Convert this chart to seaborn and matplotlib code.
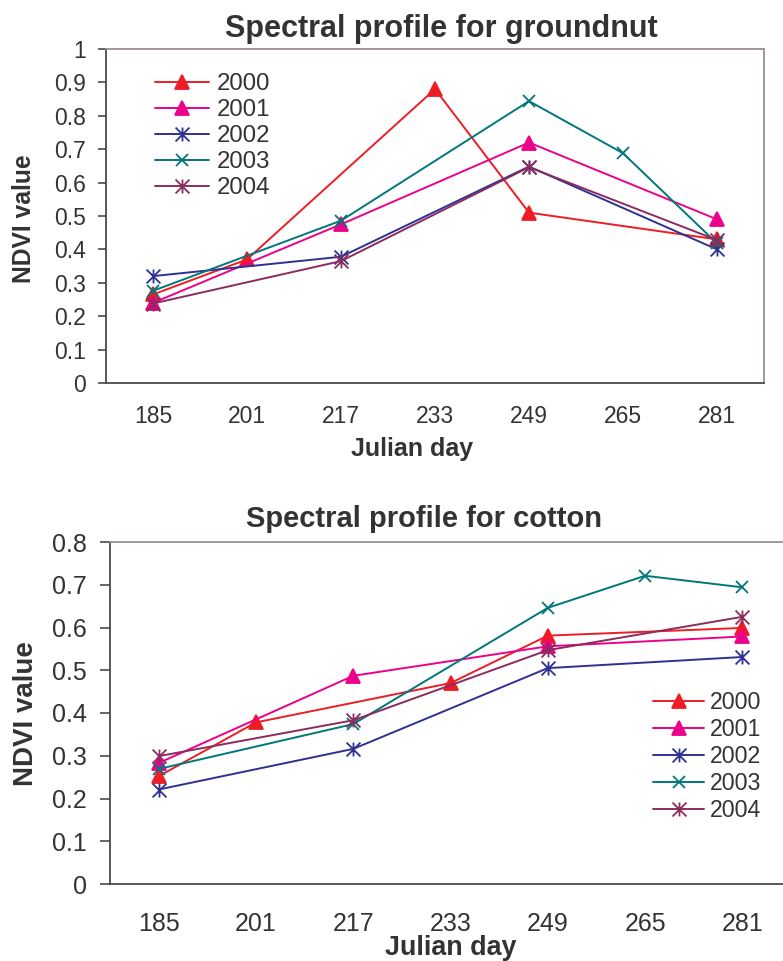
import numpy as np
import pandas as pd
import matplotlib
matplotlib.use("Agg")
import matplotlib.pyplot as plt
from matplotlib.path import Path
import seaborn as sns

# ---- data -------------------------------------------------------------
days = [185, 201, 217, 233, 249, 265, 281]
years = ["2000", "2001", "2002", "2003", "2004"]

# NDVI per Julian day (None = no observation that year)
groundnut_2000 = [0.265, 0.37, None, 0.88, 0.51, None, 0.43]
groundnut_2001 = [0.24, None, 0.475, None, 0.72, None, 0.49]
groundnut_2002 = [0.32, None, 0.378, None, 0.648, None, 0.40]
groundnut_2003 = [0.276, None, 0.486, None, 0.844, 0.688, 0.418]
groundnut_2004 = [0.238, None, 0.365, None, 0.646, None, 0.428]

cotton_2000 = [0.252, 0.378, None, 0.47, 0.581, None, 0.599]
cotton_2001 = [0.283, None, 0.487, None, 0.556, None, 0.579]
cotton_2002 = [0.221, None, 0.316, None, 0.505, None, 0.531]
cotton_2003 = [0.269, None, 0.374, None, 0.646, 0.721, 0.694]
cotton_2004 = [0.299, None, 0.383, None, 0.547, None, 0.625]

groundnut = [groundnut_2000, groundnut_2001, groundnut_2002, groundnut_2003, groundnut_2004]
cotton = [cotton_2000, cotton_2001, cotton_2002, cotton_2003, cotton_2004]

# ---- styling ----------------------------------------------------------
colors = ["#EE1C25", "#EC008C", "#2E3192", "#00777B", "#8C2C5E"]

# asterisk made of an X and a vertical stroke
star = Path(
    [(0, -1), (0, 1), (-1, -1), (1, 1), (-1, 1), (1, -1)],
    [Path.MOVETO, Path.LINETO, Path.MOVETO, Path.LINETO, Path.MOVETO, Path.LINETO],
)
markers = ["^", "^", star, "x", star]
msizes = [10, 10, 10, 9, 10]

TXT = "#333333"
AX_DARK = "#4a4a4a"
AX_LIGHT = "#9b9090"

sns.set_style("white")
plt.rcParams["font.family"] = ["Liberation Sans", "DejaVu Sans"]
plt.rcParams["text.color"] = TXT

W, H = 783, 961
fig = plt.figure(figsize=(W / 100, H / 100), dpi=100)


def px_axes(left, top, right, bottom):
    return fig.add_axes([left / W, 1 - bottom / H, (right - left) / W, (bottom - top) / H])


def long_frame(series):
    rows = []
    for yr, vals in zip(years, series):
        for i, v in enumerate(vals):
            if v is not None:
                rows.append({"pos": i, "day": days[i], "year": yr, "ndvi": v})
    return pd.DataFrame(rows)


def draw_panel(ax, series, ymax, tick_fs, ytick_len, xtick_len, xpad, ypad):
    df = long_frame(series)
    for yr, c, m, ms in zip(years, colors, markers, msizes):
        sub = df[df["year"] == yr]
        sns.lineplot(
            data=sub, x="pos", y="ndvi", ax=ax, color=c, lw=1.4,
            marker=m, markersize=ms, markeredgecolor=c, markerfacecolor=c,
            markeredgewidth=1.3, legend=False, errorbar=None,
        )
    ax.set_xlim(-0.5, 6.5)
    ax.set_ylim(0, ymax)
    ax.set_xticks(range(len(days)))
    ax.set_xticklabels([str(d) for d in days])
    ax.set_xticks(np.arange(-0.5, len(days) + 0.5, 1), minor=True)
    yt = np.round(np.arange(0, ymax + 1e-9, 0.1), 1)
    ax.set_yticks(yt)
    ax.set_yticklabels([f"{v:g}" for v in yt])
    ax.tick_params(axis="x", which="major", length=0, pad=xpad, labelsize=tick_fs, labelcolor=TXT)
    ax.tick_params(axis="x", which="minor", length=xtick_len, width=1.2, color=AX_DARK, direction="out")
    ax.tick_params(axis="y", which="major", length=ytick_len, width=1.2, color=AX_DARK,
                   direction="out", pad=ypad, labelsize=tick_fs, labelcolor=TXT, left=True)
    ax.set_xlabel("")
    ax.set_ylabel("")
    for s in ("left", "bottom"):
        ax.spines[s].set_color(AX_DARK)
        ax.spines[s].set_linewidth(1.3)
    for s in ("top", "right"):
        ax.spines[s].set_color(AX_LIGHT)
        ax.spines[s].set_linewidth(1.3)
    ax.grid(False)
    return ax.get_lines()


# ---- groundnut panel ----------------------------------------------------
ax1 = px_axes(106, 49, 764, 383)
lines1 = draw_panel(ax1, groundnut, 1.0, 16.5, 5.8, 5.5, 15.5, 8.6)
fig.text(441 / W, 1 - 37 / H, "Spectral profile for groundnut", ha="center", va="baseline",
         fontsize=22, fontweight="bold", color=TXT)
fig.text(412 / W, 1 - 456 / H, "Julian day", ha="center", va="baseline",
         fontsize=18, fontweight="bold", color=TXT)
fig.text(24 / W, 1 - 219 / H, "NDVI value", ha="center", va="center", rotation=90,
         fontsize=17.7, fontweight="bold", color=TXT)
ax1.legend(lines1, years, loc="upper left", bbox_to_anchor=(155 / W, 1 - 73 / H),
           bbox_transform=fig.transFigure, frameon=False, borderpad=0, borderaxespad=0,
           fontsize=17.3, handlelength=2.25, handletextpad=0.3, labelspacing=0.17,
           numpoints=1, labelcolor=TXT)

# ---- cotton panel -------------------------------------------------------
ax2 = px_axes(110, 542, 791, 884)
lines2 = draw_panel(ax2, cotton, 0.8, 18, 7.2, 6.5, 20, 9.4)
fig.text(424 / W, 1 - 527 / H, "Spectral profile for cotton", ha="center", va="baseline",
         fontsize=21, fontweight="bold", color=TXT)
fig.text(451 / W, 1 - 955 / H, "Julian day", ha="center", va="baseline",
         fontsize=19.4, fontweight="bold", color=TXT)
fig.text(26 / W, 1 - 714 / H, "NDVI value", ha="center", va="center", rotation=90,
         fontsize=20, fontweight="bold", color=TXT)
ax2.legend(lines2, years, loc="upper left", bbox_to_anchor=(653 / W, 1 - 691 / H),
           bbox_transform=fig.transFigure, frameon=False, borderpad=0, borderaxespad=0,
           fontsize=16.7, handlelength=2.2, handletextpad=0.25, labelspacing=0.17,
           numpoints=1, labelcolor=TXT)

fig.savefig("out.png", dpi=100)
